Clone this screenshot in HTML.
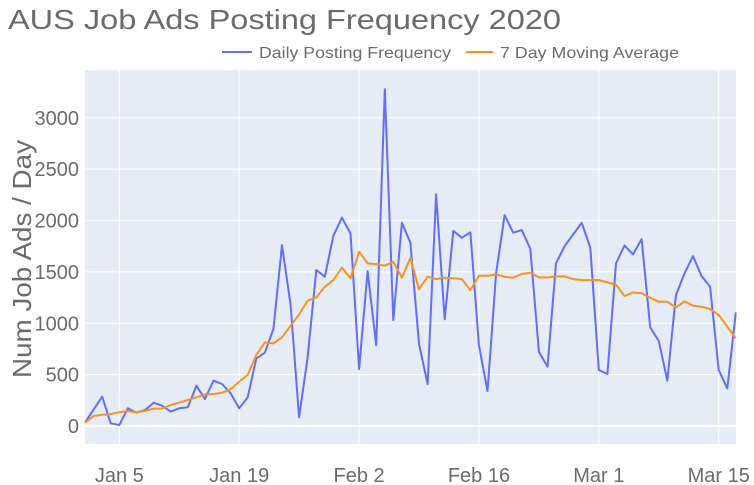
<!DOCTYPE html>
<html><head><meta charset="utf-8"><style>
html,body{margin:0;padding:0;background:#fff;}
svg{display:block;font-family:"Liberation Sans",Arial,sans-serif;}
</style></head><body>
<svg id="chart" width="754" height="485" viewBox="0 0 754 485">
<text x="8" y="29" font-size="28" fill="#6b6b6b" textLength="553" lengthAdjust="spacingAndGlyphs">AUS Job Ads Posting Frequency 2020</text>
<g>
<g>
<line x1="222" y1="52" x2="252" y2="52" stroke="#636efa" stroke-width="2"/>
<text x="259" y="58" font-size="16" fill="#6b6b6b" textLength="192" lengthAdjust="spacingAndGlyphs">Daily Posting Frequency</text>
</g>
<g>
<line x1="466" y1="52" x2="493" y2="52" stroke="#f7941d" stroke-width="2"/>
<text x="500" y="58" font-size="16" fill="#6b6b6b" textLength="179" lengthAdjust="spacingAndGlyphs">7 Day Moving Average</text>
</g>
</g>
<rect x="85" y="70" width="651" height="374" fill="#e5ecf6"/>
<g id="grid"></g>
<g id="series"></g>
<g id="labels"></g>
<text transform="translate(31,259) rotate(-90)" text-anchor="middle" font-size="26" fill="#6b6b6b" textLength="238" lengthAdjust="spacingAndGlyphs">Num Job Ads / Day</text>
</svg>
<script>
const daily = [32,160,285,26,10,172,130,155,227,198,140,172,182,392,263,441,409,318,172,279,658,713,944,1761,1177,84,675,1518,1453,1852,2027,1874,555,1508,785,3278,1031,1978,1783,798,409,2254,1038,1900,1832,1884,788,340,1485,2053,1881,1907,1725,723,577,1582,1751,1864,1978,1735,545,506,1582,1757,1670,1819,960,827,441,1274,1485,1654,1459,1355,545,366,1106];
const movingAvg = [32,97,110,117,133,146,133,146,169,169,204,227,253,279,308,311,324,357,431,496,691,814,804,863,976,1086,1219,1252,1355,1420,1543,1437,1696,1582,1576,1560,1598,1443,1637,1330,1453,1430,1443,1437,1430,1323,1462,1462,1475,1453,1443,1479,1492,1446,1446,1456,1456,1430,1420,1420,1420,1398,1375,1265,1300,1291,1248,1209,1209,1154,1213,1171,1161,1138,1080,966,853];
const yTicks = [0,500,1000,1500,2000,2500,3000];
const xTickDays = [4,18,32,46,60,74];
const xTickLabels = ["Jan 5","Jan 19","Feb 2","Feb 16","Mar 1","Mar 15"];

const NS = "http://www.w3.org/2000/svg";
const x0 = 85.05, pxPerDay = 8.563;
const xs = d => x0 + d * pxPerDay;
const ys = v => 426 - v * 0.10275;
function mk(tag, attrs, parent){const e=document.createElementNS(NS,tag);for(const k in attrs)e.setAttribute(k,attrs[k]);parent.appendChild(e);return e;}
const grid=document.getElementById('grid'), series=document.getElementById('series'), labels=document.getElementById('labels');
yTicks.forEach(t=>{
  const l=mk('line',{x1:85,x2:736,y1:ys(t),y2:ys(t),stroke:'#fff','stroke-width':t===0?2:1},grid);
  
  
  const tx=mk('text',{x:79,y:ys(t)+7,'text-anchor':'end','font-size':20,fill:'#6b6b6b'},labels);
  tx.textContent=t;
  
  
});
xTickDays.forEach((d,i)=>{
  const l=mk('line',{x1:xs(d),x2:xs(d),y1:70,y2:444,stroke:'#fff','stroke-width':1},grid);
  
  
  const tx=mk('text',{x:xs(d),y:482,'text-anchor':'middle','font-size':20,fill:'#6b6b6b'},labels);
  tx.textContent=xTickLabels[i];
  
  
});
function line(data,color){
  const p=mk('polyline',{points:data.map((v,i)=>xs(i).toFixed(1)+','+ys(v).toFixed(1)).join(' '),fill:'none',stroke:color,'stroke-width':2,'stroke-linejoin':'round'},series);
  return p;
}
const p1=line(daily,'#636efa');


const p2=line(movingAvg,'#f7941d');


</script>
</body></html>
